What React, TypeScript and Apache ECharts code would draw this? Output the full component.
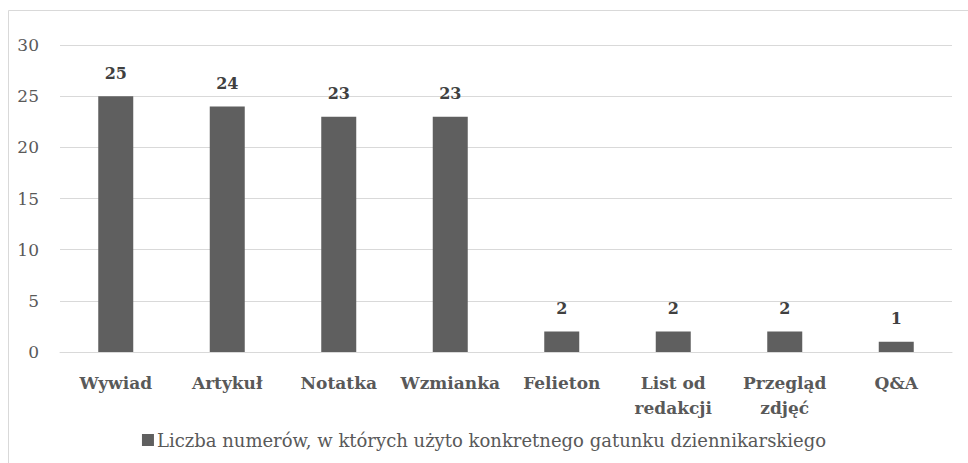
import React, { useEffect, useRef } from "react";
import * as echarts from "echarts";

const categories = ["Wywiad", "Artykuł", "Notatka", "Wzmianka", "Felieton", "List od\nredakcji", "Przegląd\nzdjęć", "Q&A"];
const values = [25, 24, 23, 23, 2, 2, 2, 1];
const seriesName = "Liczba numerów, w których użyto konkretnego gatunku dziennikarskiego";
const yMin = 0;
const yMax = 30;
const yInterval = 5;

const FONT = "DejaVu Serif";

export default function App() {
  const ref = useRef<HTMLDivElement>(null);
  useEffect(() => {
    const chart = echarts.init(ref.current!, null, { renderer: "svg" });
    chart.setOption({
      animation: false,
      backgroundColor: "#ffffff",
      textStyle: { fontFamily: FONT },
      graphic: [
        {
          type: "rect",
          shape: { x: 8.5, y: 10.5, width: 1000, height: 500 },
          style: { fill: "none", stroke: "#d9d9d9", lineWidth: 1 },
          silent: true,
        },
      ],
      grid: { left: 60, right: 16, top: 45, bottom: 111, containLabel: false },
      legend: {
        bottom: 9,
        left: "center",
        icon: "rect",
        itemWidth: 12,
        itemHeight: 12,
        itemGap: 4,
        textStyle: { fontFamily: FONT, fontSize: 18, color: "#595959", padding: [0, 0, 0, -2] },
        data: [seriesName],
      },
      xAxis: {
        type: "category",
        data: categories,
        axisLine: { show: true, lineStyle: { color: "#d9d9d9", width: 1 } },
        axisTick: { show: false },
        axisLabel: {
          fontFamily: FONT,
          fontSize: 17,
          fontWeight: "bold",
          color: "#595959",
          margin: 18,
          lineHeight: 25,
          interval: 0,
        },
      },
      yAxis: {
        type: "value",
        min: yMin,
        max: yMax,
        interval: yInterval,
        axisLine: { show: false },
        axisTick: { show: false },
        splitLine: { lineStyle: { color: "#d9d9d9", width: 1 } },
        axisLabel: { fontFamily: FONT, fontSize: 17, color: "#595959", margin: 21 },
      },
      series: [
        {
          name: seriesName,
          type: "bar",
          data: values,
          barWidth: 35,
          itemStyle: { color: "#5f5f5f" },
          label: {
            show: true,
            position: "top",
            distance: 15,
            fontFamily: FONT,
            fontSize: 16,
            fontWeight: "bold",
            color: "#404040",
          },
        },
      ],
    });
    return () => chart.dispose();
  }, []);
  return (
    <div style={{ position: "absolute", left: 0, top: 0, width: 968, height: 463, overflow: "hidden" }}>
      <div ref={ref} style={{ width: 968, height: 463 }} />
    </div>
  );
}
